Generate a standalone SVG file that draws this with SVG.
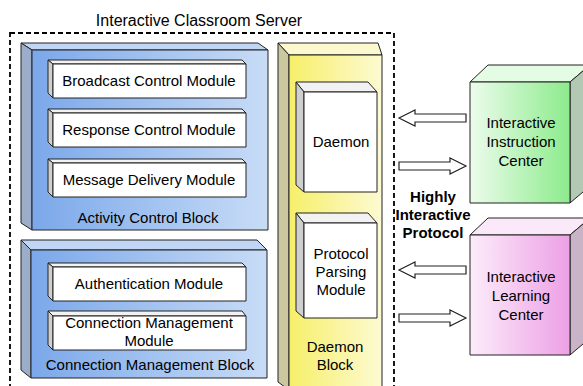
<svg xmlns="http://www.w3.org/2000/svg" width="583" height="386" viewBox="0 0 583 386">
<defs>
<linearGradient id="gBlue" x1="0" y1="0" x2="1" y2="0"><stop offset="0" stop-color="#7ba8ea"/><stop offset="1" stop-color="#c8dcf6"/></linearGradient>
<linearGradient id="gYellow" x1="0" y1="0" x2="1" y2="0"><stop offset="0" stop-color="#f6ef6a"/><stop offset="1" stop-color="#fdfad2"/></linearGradient>
<linearGradient id="gGreen" x1="0" y1="0" x2="1" y2="0"><stop offset="0" stop-color="#ecfcec"/><stop offset="1" stop-color="#8ceb8c"/></linearGradient>
<linearGradient id="gPink" x1="0" y1="0" x2="1" y2="0"><stop offset="0" stop-color="#fcecfa"/><stop offset="1" stop-color="#eda0e5"/></linearGradient>
</defs>
<style>
text{font-family:"Liberation Sans",Arial,sans-serif;font-size:15px;fill:#000;text-anchor:middle}
.title{font-size:16px}
.bold{font-weight:bold}
.edge{stroke:#222;stroke-width:1;stroke-linejoin:round}
.bFront{fill:url(#gBlue)}
.bTop{fill:#c0d6f4}
.bSide{fill:#9badc8}
.yFront{fill:url(#gYellow)}
.yTop{fill:#fcf9cf}
.ySide{fill:#cbc8a0}
.mFront{fill:#fff}
.mTop{fill:#f2f2f2}
.mSide{fill:#cfcfcf}
.arrow{fill:#fff;stroke:#222;stroke-width:1.2;stroke-linejoin:miter}
</style>

<text class="title" x="199" y="26">Interactive Classroom Server</text>
<rect x="10" y="33" width="384" height="370" fill="none" stroke="#000" stroke-width="1.8" stroke-dasharray="5,3"/>

<g id="activity-control-block">
<polygon class="edge bTop" points="21,43 258,43 268,50 32,50"/>
<polygon class="edge bSide" points="21,43 32,50 32,230 21,223"/>
<rect class="edge bFront" x="32" y="50" width="236" height="180"/>
<text x="148" y="223">Activity Control Block</text>
</g>

<g id="broadcast-control-module">
<polygon class="edge mTop" points="48,60 242,60 246,64 53,64"/>
<polygon class="edge mSide" points="48,60 53,64 53,98 48,93"/>
<rect class="edge mFront" x="53" y="64" width="193" height="34"/>
<text x="149" y="86">Broadcast Control Module</text>
</g>

<g id="response-control-module">
<polygon class="edge mTop" points="48,109 242,109 246,113 53,113"/>
<polygon class="edge mSide" points="48,109 53,113 53,147 48,142"/>
<rect class="edge mFront" x="53" y="113" width="193" height="34"/>
<text x="149" y="135">Response Control Module</text>
</g>

<g id="message-delivery-module">
<polygon class="edge mTop" points="48,159 242,159 246,163 53,163"/>
<polygon class="edge mSide" points="48,159 53,163 53,197 48,192"/>
<rect class="edge mFront" x="53" y="163" width="193" height="34"/>
<text x="149" y="185">Message Delivery Module</text>
</g>

<g id="connection-management-block">
<polygon class="edge bTop" points="21,240 257,240 267,250 31,250"/>
<polygon class="edge bSide" points="21,240 31,250 31,378 21,370"/>
<rect class="edge bFront" x="31" y="250" width="236" height="128"/>
<text x="150" y="370">Connection Management Block</text>
</g>

<g id="authentication-module">
<polygon class="edge mTop" points="48,263 242,263 246,267 53,267"/>
<polygon class="edge mSide" points="48,263 53,267 53,301 48,296"/>
<rect class="edge mFront" x="53" y="267" width="193" height="34"/>
<text x="149" y="289">Authentication Module</text>
</g>

<g id="connection-management-module">
<polygon class="edge mTop" points="48,311 242,311 246,316 53,316"/>
<polygon class="edge mSide" points="48,311 53,316 53,350 48,345"/>
<rect class="edge mFront" x="53" y="316" width="193" height="34"/>
<text x="149" y="328">Connection Management</text>
<text x="149" y="346">Module</text>
</g>

<g id="daemon-block">
<polygon class="edge yTop" points="278,43 378,43 382,55 289,55"/>
<polygon class="edge ySide" points="278,43 289,55 289,390 278,382"/>
<rect class="edge yFront" x="289" y="55" width="93" height="335"/>
<text x="335" y="352">Daemon</text>
<text x="335" y="370">Block</text>
</g>

<g id="daemon">
<polygon class="edge mTop" points="296,82 368,82 377,92 304,92"/>
<polygon class="edge mSide" points="296,82 304,92 304,192 296,185"/>
<rect class="edge mFront" x="304" y="92" width="73" height="100"/>
<text x="341" y="147">Daemon</text>
</g>

<g id="protocol-parsing-module">
<polygon class="edge mTop" points="296,213 368,213 377,223 304,223"/>
<polygon class="edge mSide" points="296,213 304,223 304,318 296,311"/>
<rect class="edge mFront" x="304" y="223" width="73" height="95"/>
<text x="341" y="259">Protocol</text>
<text x="341" y="277">Parsing</text>
<text x="341" y="295">Module</text>
</g>

<g id="protocol-label">
<text class="bold" x="433" y="202">Highly</text>
<text class="bold" x="433" y="220">Interactive</text>
<text class="bold" x="433" y="238">Protocol</text>
</g>

<g id="interactive-instruction-center">
<polygon class="edge" fill="#e4fbe4" points="470,82 488,65 590,65 570,82"/>
<polygon class="edge" fill="#b3c9b3" points="570,82 590,65 590,186 570,203"/>
<rect class="edge" fill="url(#gGreen)" x="470" y="82" width="100" height="121"/>
<text x="521" y="128">Interactive</text>
<text x="521" y="147">Instruction</text>
<text x="521" y="166">Center</text>
</g>

<g id="interactive-learning-center">
<polygon class="edge" fill="#fbe9f9" points="470,235 488,218 590,218 570,235"/>
<polygon class="edge" fill="#c9b3c7" points="570,235 590,218 590,338 570,355"/>
<rect class="edge" fill="url(#gPink)" x="470" y="235" width="100" height="120"/>
<text x="521" y="282">Interactive</text>
<text x="521" y="301">Learning</text>
<text x="521" y="320">Center</text>
</g>

<g id="connectors">
<polygon class="arrow" points="399,118 415,110 415,114 466,114 466,122 415,122 415,126"/>
<polygon class="arrow" points="466,166 450,158 450,162 399,162 399,170 450,170 450,174"/>
<polygon class="arrow" points="399,270 415,262 415,266 466,266 466,274 415,274 415,278"/>
<polygon class="arrow" points="466,318 450,310 450,314 399,314 399,322 450,322 450,326"/>
</g>
</svg>
